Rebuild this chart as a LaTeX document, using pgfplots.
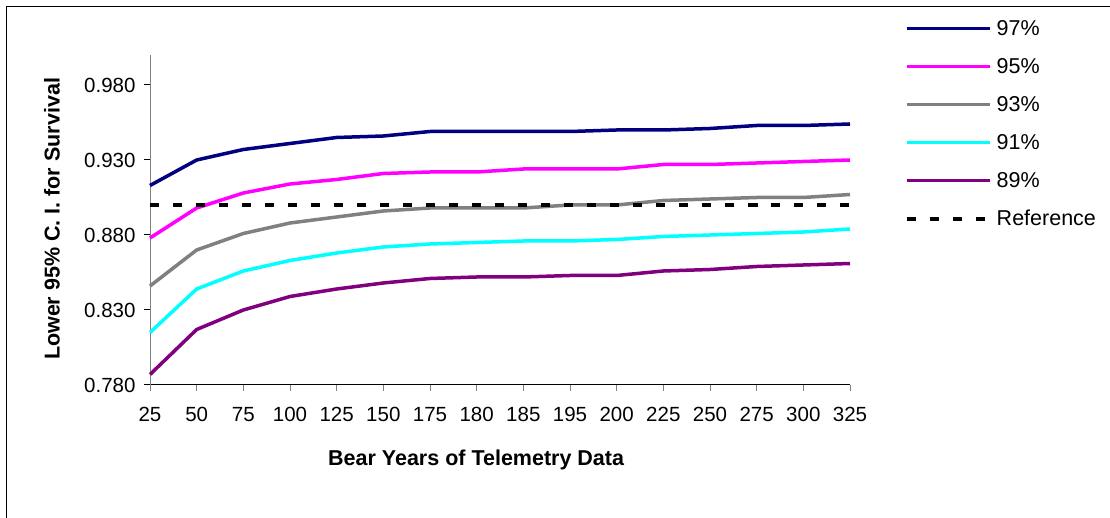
\documentclass[border=0pt]{standalone}
\usepackage{pgfplots}
\pgfplotsset{compat=1.18}
\usepackage{fontspec}
\setmainfont{Liberation Sans}
\definecolor{cNavy}{RGB}{0,0,128}
\definecolor{cMag}{RGB}{255,0,255}
\definecolor{cGray}{RGB}{128,128,128}
\definecolor{cCyan}{RGB}{0,255,255}
\definecolor{cPurp}{RGB}{128,0,128}
\begin{document}
\begin{tikzpicture}
\useasboundingbox (0,0) rectangle (1110pt,518pt);
\draw[line width=1pt] (6pt,-2pt) -- (6pt,511pt) -- (1112pt,511pt);
\begin{axis}[
  at={(150pt,133pt)}, anchor=south west,
  scale only axis, width=700pt, height=330pt,
  xmin=0, xmax=15, ymin=0.78, ymax=1.0,
  axis x line*=bottom, axis y line*=left,
  x axis line style={black, line width=1pt, -},
  y axis line style={cGray, line width=1pt, -},
  xtick={0,...,15},
  xticklabels={25,50,75,100,125,150,175,180,185,195,200,225,250,275,300,325},
  ytick={0.78,0.83,0.88,0.93,0.98},
  tick align=outside,
  major tick length=6pt,
  x tick style={cGray, line width=1pt},
  y tick style={black, line width=1pt},
  /pgf/number format/assume math mode=true,
  yticklabel style={/pgf/number format/fixed, /pgf/number format/fixed zerofill, /pgf/number format/precision=3, xshift=-5pt},
  xticklabel style={yshift=-13pt},
  ticklabel style={font=\fontsize{20.5}{24}\selectfont},
  xlabel={\textbf{Bear Years of Telemetry Data}},
  ylabel={\textbf{Lower 95\% C. I. for Survival}},
  xlabel style={font=\fontsize{21.5}{25}\selectfont, at={(axis description cs:0.466,-0.227)}, anchor=center},
  ylabel style={font=\fontsize{21.5}{25}\selectfont, at={(axis description cs:-0.14,0.503)}, anchor=center, rotate=0},
  legend style={draw=none, fill=none, at={(axis description cs:1.0786,1.106)}, anchor=north west,
    font=\fontsize{21.5}{25}\selectfont, inner sep=0pt, row sep=21.5pt, column sep=5pt,
    nodes={inner sep=0pt}},
  legend cell align=left,
  legend image code/.code={\draw[#1] (0pt,0pt) -- (83pt,0pt);},
  clip=false,
]
\addplot[cNavy, line width=3.5pt] coordinates {(0,0.913)(1,0.930)(2,0.937)(3,0.941)(4,0.945)(5,0.946)(6,0.949)(7,0.949)(8,0.949)(9,0.949)(10,0.950)(11,0.950)(12,0.951)(13,0.953)(14,0.953)(15,0.954)};
\addlegendentry{97\%}
\addplot[cMag, line width=3.5pt] coordinates {(0,0.878)(1,0.898)(2,0.908)(3,0.914)(4,0.917)(5,0.921)(6,0.922)(7,0.922)(8,0.924)(9,0.924)(10,0.924)(11,0.927)(12,0.927)(13,0.928)(14,0.929)(15,0.930)};
\addlegendentry{95\%}
\addplot[cGray, line width=3.5pt] coordinates {(0,0.846)(1,0.870)(2,0.881)(3,0.888)(4,0.892)(5,0.896)(6,0.898)(7,0.898)(8,0.898)(9,0.900)(10,0.900)(11,0.903)(12,0.904)(13,0.905)(14,0.905)(15,0.907)};
\addlegendentry{93\%}
\addplot[cCyan, line width=3.5pt] coordinates {(0,0.815)(1,0.844)(2,0.856)(3,0.863)(4,0.868)(5,0.872)(6,0.874)(7,0.875)(8,0.876)(9,0.876)(10,0.877)(11,0.879)(12,0.880)(13,0.881)(14,0.882)(15,0.884)};
\addlegendentry{91\%}
\addplot[cPurp, line width=3.5pt] coordinates {(0,0.787)(1,0.817)(2,0.830)(3,0.839)(4,0.844)(5,0.848)(6,0.851)(7,0.852)(8,0.852)(9,0.853)(10,0.853)(11,0.856)(12,0.857)(13,0.859)(14,0.860)(15,0.861)};
\addlegendentry{89\%}
\addplot[black, line width=3.5pt, dash pattern=on 9pt off 14pt] coordinates {(0,0.900)(1,0.900)(2,0.900)(3,0.900)(4,0.900)(5,0.900)(6,0.900)(7,0.900)(8,0.900)(9,0.900)(10,0.900)(11,0.900)(12,0.900)(13,0.900)(14,0.900)(15,0.900)};
\addlegendentry{Reference}
\end{axis}
\end{tikzpicture}
\end{document}
